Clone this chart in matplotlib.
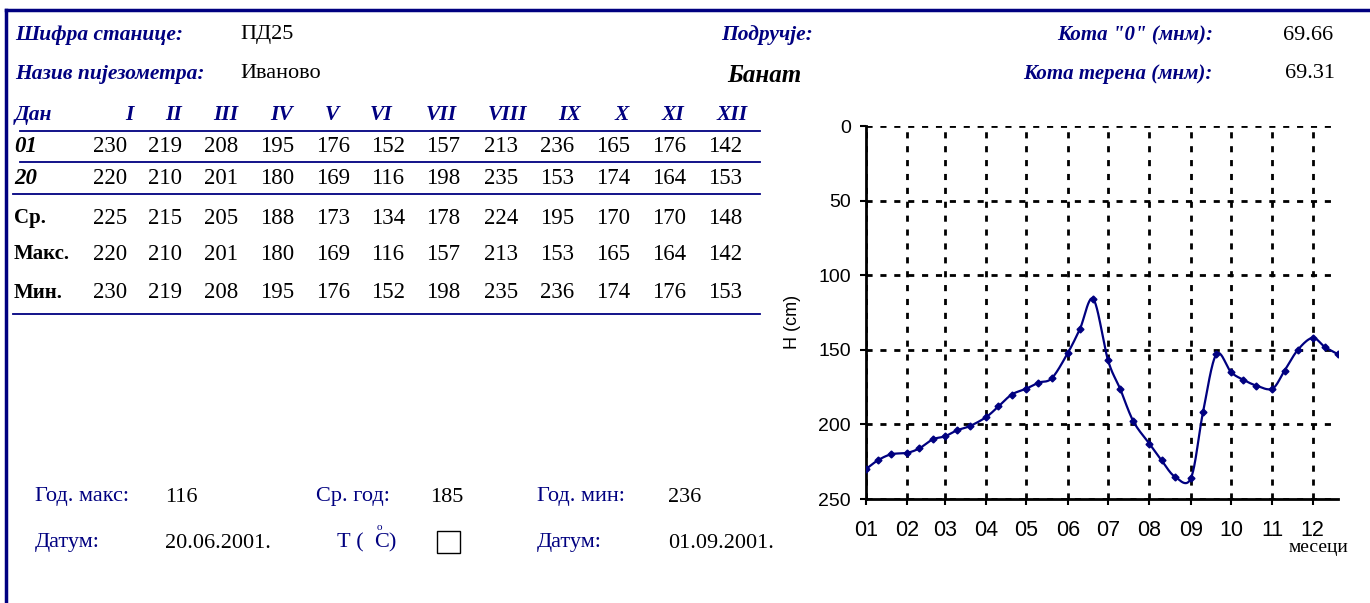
import numpy as np
import matplotlib
matplotlib.use("Agg")
import matplotlib.pyplot as plt
from matplotlib.lines import Line2D
from matplotlib.patches import Rectangle

# --- data -------------------------------------------------------------
months_roman = ["I", "II", "III", "IV", "V", "VI", "VII", "VIII", "IX", "X", "XI", "XII"]
day01 = [230, 219, 208, 195, 176, 152, 157, 213, 236, 165, 176, 142]
day20 = [220, 210, 201, 180, 169, 116, 198, 235, 153, 174, 164, 153]
avg_row = [225, 215, 205, 188, 173, 134, 178, 224, 195, 170, 170, 148]
max_row = [220, 210, 201, 180, 169, 116, 157, 213, 153, 165, 164, 142]
min_row = [230, 219, 208, 195, 176, 152, 198, 235, 236, 174, 176, 153]

# chart: readings on the 1st, 10th and 20th of each month (H in cm)
h_values = [230, 224, 220,  219, 216, 210,  208, 204, 201,  195, 188, 180,
            176, 172, 169,  152, 136, 116,  157, 176, 198,  213, 224, 235,
            236, 192, 153,  165, 170, 174,  176, 164, 150,  142, 148, 153]
reading_days = [1, 10, 20]
month_start = [0, 31, 59, 90, 120, 151, 181, 212, 243, 273, 304, 334]
month_ticks = ["01", "02", "03", "04", "05", "06", "07", "08", "09", "10", "11", "12"]

navy = "#000080"
W, H = 1370, 603
serif = "Liberation Serif"


def fx(x):
    return x / W


def fy(y):
    return 1 - y / H


def smooth(x, y, n=25):
    # Bezier smoothing like a spreadsheet "smoothed line"
    P = np.column_stack([x, y]).astype(float)
    Q = np.vstack([P[0], P, P[-1]])
    t = np.linspace(0, 1, n)[:, None]
    segs = []
    for i in range(len(P) - 1):
        p0, p1, p2, p3 = Q[i], Q[i + 1], Q[i + 2], Q[i + 3]
        c1 = p1 + (p2 - p0) / 6
        c2 = p2 - (p3 - p1) / 6
        segs.append((1 - t) ** 3 * p1 + 3 * (1 - t) ** 2 * t * c1 + 3 * (1 - t) * t ** 2 * c2 + t ** 3 * p2)
    return np.vstack(segs)


fig = plt.figure(figsize=(13.7, 6.03), dpi=100)

# frame lines
fig.add_artist(Line2D([fx(6), fx(1370)], [fy(10), fy(10)], color=navy, lw=2.5, transform=fig.transFigure))
fig.add_artist(Line2D([fx(6), fx(6)], [fy(10), fy(603)], color=navy, lw=2.5, transform=fig.transFigure))


def txt(x, y, s, ha="left", color="black", size=16, weight="normal", style="normal"):
    fig.text(fx(x), fy(y), s, ha=ha, va="center", color=color, fontsize=size,
             fontweight=weight, fontstyle=style, family=serif)


# header
txt(15, 35, "Шифра станице:", color=navy, size=15.5, weight="bold", style="italic")
txt(240, 35, "ПД25")
txt(15, 74, "Назив пијезометра:", color=navy, size=15.5, weight="bold", style="italic")
txt(240, 74, "Иваново")
txt(721, 35, "Подручје:", color=navy, size=15.5, weight="bold", style="italic")
txt(727, 75, "Банат", size=18, weight="bold", style="italic")
txt(1213, 35, "Кота \"0\" (мнм):", ha="right", color=navy, size=15, weight="bold", style="italic")
txt(1283, 35, "69.66")
txt(1213, 74, "Кота терена (мнм):", ha="right", color=navy, size=15, weight="bold", style="italic")
txt(1285, 74, "69.31")

# table
num_x = [110, 165, 221, 277, 333, 388, 443, 501, 557, 613, 669, 725]
head_x = [129, 174, 226, 282, 332, 381, 441, 507, 570, 622, 673, 732]
txt(15, 115, "Дан", color=navy, size=15.5, weight="bold", style="italic")
for hx, m in zip(head_x, months_roman):
    txt(hx, 115, m, ha="center", color=navy, size=15.5, weight="bold", style="italic")

rows = [(146, "01", day01, "italic", 16.5), (178, "20", day20, "italic", 16.5),
        (218, "Ср.", avg_row, "normal", 15), (254, "Макс.", max_row, "normal", 15),
        (293, "Мин.", min_row, "normal", 15)]
for ry, lab, vals, st, sz in rows:
    txt(14, ry, lab, size=sz, weight="bold", style=st)
    for nx, v in zip(num_x, vals):
        txt(nx, ry, str(v), ha="center", size=16.5)

for y0, x0 in [(131, 20), (162, 20), (194, 13), (314, 13)]:
    fig.add_artist(Line2D([fx(x0), fx(760)], [fy(y0), fy(y0)], color=navy, lw=1.3, transform=fig.transFigure))

# bottom summary
txt(35, 497, "Год. макс:", color=navy)
txt(165, 497, "116")
txt(316, 497, "Ср. год:", color=navy)
txt(430, 497, "185")
txt(537, 497, "Год. мин:", color=navy)
txt(668, 497, "236")
txt(35, 543, "Датум:", color=navy)
txt(165, 543, "20.06.2001.")
txt(337, 543, "Т (", color=navy)
txt(374, 543, "C)", color=navy)
txt(379, 528, "o", ha="center", color=navy, size=8)
txt(537, 543, "Датум:", color=navy)
txt(668, 543, "01.09.2001.")
fig.add_artist(Rectangle((fx(437), fy(553)), fx(23), 22 / H, fill=False, ec="black", lw=1,
                         transform=fig.transFigure))

# chart
x_days = np.array([m + d - 1 for m in month_start for d in reading_days])
y_vals = np.array(h_values)

ax_l, ax_r, ax_t, ax_b = 866, 1338, 126, 499
ax = fig.add_axes([fx(ax_l), fy(ax_b), (ax_r - ax_l) / W, (ax_b - ax_t) / H])
curve = smooth(x_days, y_vals)
ax.plot(curve[:, 0], curve[:, 1], color=navy, lw=1.6, zorder=3)
ax.plot(x_days, y_vals, linestyle="none", marker="D", markersize=3.5, color=navy, zorder=4)
ax.set_xlim(0, x_days[-1])
ax.set_ylim(250, 0)
ax.set_xticks(month_start)
ax.set_xticklabels(month_ticks, family="Liberation Sans")
ax.set_yticks([0, 50, 100, 150, 200, 250])
ax.set_yticklabels(["0", "50", "100", "150", "200", "250"], family="Liberation Sans")
ax.grid(True, color="black", linestyle=(0, (2.2, 2.8)), linewidth=2)
ax.set_axisbelow(True)
for s in ["top", "right"]:
    ax.spines[s].set_visible(False)
for s in ["left", "bottom"]:
    ax.spines[s].set_linewidth(2)
ax.tick_params(direction="out", length=4, width=1.5, labelsize=14)
ax.tick_params(axis="x", pad=11, labelsize=15.5)
ax.tick_params(axis="y", pad=7)
ax.set_ylabel("H (cm)", fontsize=13, family="Liberation Sans")
ax.yaxis.set_label_coords((801 - ax_l) / (ax_r - ax_l), (ax_b - 322) / (ax_b - ax_t))
fig.text(fx(1318), fy(548), "месеци", ha="center", va="center", fontsize=14, family=serif)

fig.savefig("out.png", dpi=100)
